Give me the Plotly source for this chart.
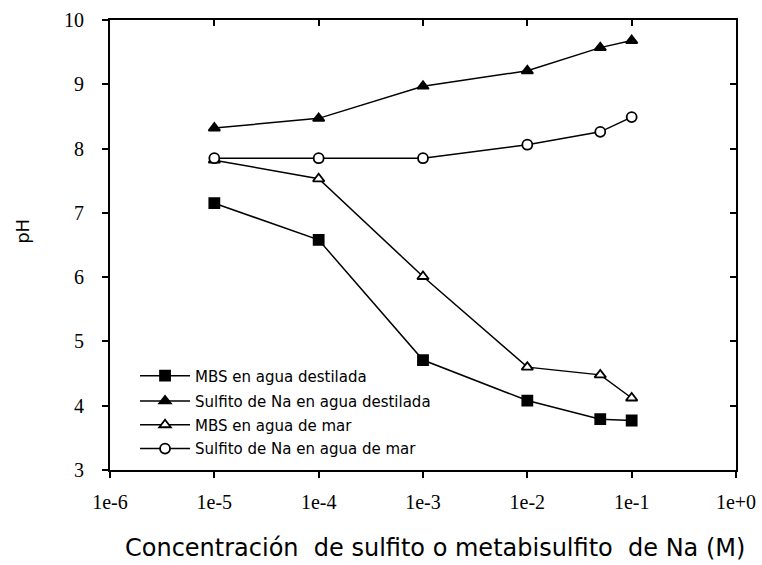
import plotly.graph_objects as go

conc = [1e-5, 1e-4, 1e-3, 1e-2, 5e-2, 1e-1]
mbs_destilada = [7.15, 6.58, 4.71, 4.08, 3.79, 3.77]
sulfito_destilada = [8.32, 8.47, 8.97, 9.21, 9.57, 9.68]
mbs_mar = [7.82, 7.53, 6.01, 4.60, 4.48, 4.12]
sulfito_mar = [7.85, 7.85, 7.85, 8.06, 8.26, 8.49]

x_ticks = [1e-6, 1e-5, 1e-4, 1e-3, 1e-2, 1e-1, 1e0]
x_ticklabels = ["1e-6", "1e-5", "1e-4", "1e-3", "1e-2", "1e-1", "1e+0"]
y_ticks = [3, 4, 5, 6, 7, 8, 9, 10]

series = [
    ("MBS en agua destilada", mbs_destilada, "square", "black"),
    ("Sulfito de Na en agua destilada", sulfito_destilada, "triangle-up", "black"),
    ("MBS en agua de mar", mbs_mar, "triangle-up", "white"),
    ("Sulfito de Na en agua de mar", sulfito_mar, "circle", "white"),
]
legend_ids = ["legend", "legend2", "legend3", "legend4"]
legend_rows = [0.209, 0.153, 0.100, 0.047]

fig = go.Figure()
for (name, vals, sym, fill), lid in zip(series, legend_ids):
    fig.add_trace(go.Scatter(
        x=conc, y=vals, name=name, mode="lines+markers", legend=lid,
        line=dict(color="black", width=1.5),
        marker=dict(symbol=sym, size=10, color=fill,
                    line=dict(color="black", width=1.8)),
    ))

# invisible trace for mirrored (top/right) axes with inward ticks
fig.add_trace(go.Scatter(x=[1e-6], y=[3], xaxis="x2", yaxis="y2", mode="markers",
                         marker=dict(opacity=0), showlegend=False, hoverinfo="skip"))

legend_common = dict(x=0.04, xanchor="left", yanchor="middle",
                     bgcolor="rgba(0,0,0,0)",
                     font=dict(family="DejaVu Sans", size=15, color="black"),
                     itemwidth=50)
legends = {lid: dict(legend_common, y=yy) for lid, yy in zip(legend_ids, legend_rows)}

tickfont = dict(family="Times New Roman, Liberation Serif, serif", size=20, color="black")
fig.update_layout(
    width=762, height=565,
    margin=dict(l=110, r=26, t=20, b=95),
    paper_bgcolor="white", plot_bgcolor="white",
    showlegend=True,
    **legends,
    xaxis=dict(type="log", range=[-6, 0], tickvals=x_ticks, ticktext=x_ticklabels,
               ticks="outside", ticklen=6, tickwidth=2, tickcolor="black",
               ticklabelstandoff=7, automargin=False,
               showline=True, linewidth=2, linecolor="black", showgrid=False, zeroline=False,
               tickfont=tickfont),
    yaxis=dict(range=[3, 10], tickvals=y_ticks, ticks="outside", ticklen=6, tickwidth=2,
               tickcolor="black", showline=True, linewidth=2, linecolor="black",
               ticklabelstandoff=14, automargin=False,
               showgrid=False, zeroline=False, tickfont=tickfont),
    xaxis2=dict(type="log", range=[-6, 0], overlaying="x", side="top", anchor="y2",
                tickvals=x_ticks, ticks="inside", ticklen=6, tickwidth=2, tickcolor="black",
                showticklabels=False, showline=True, linewidth=2, linecolor="black",
                showgrid=False, zeroline=False, automargin=False),
    yaxis2=dict(range=[3, 10], overlaying="y", side="right", anchor="x2",
                tickvals=y_ticks, ticks="inside", ticklen=6, tickwidth=2, tickcolor="black",
                showticklabels=False, showline=True, linewidth=2, linecolor="black",
                showgrid=False, zeroline=False, automargin=False),
    annotations=[
        dict(text="pH", textangle=-90, xref="paper", yref="paper",
             x=-0.14, y=0.53, xanchor="center", yanchor="middle", showarrow=False,
             font=dict(family="DejaVu Sans", size=18, color="black")),
        dict(text="Concentración  de sulfito o metabisulfito  de Na (M)",
             xref="paper", yref="paper", x=0.519, y=-0.173,
             xanchor="center", yanchor="middle", showarrow=False,
             font=dict(family="DejaVu Sans", size=24, color="black")),
    ],
)

fig.write_html("out.html")
